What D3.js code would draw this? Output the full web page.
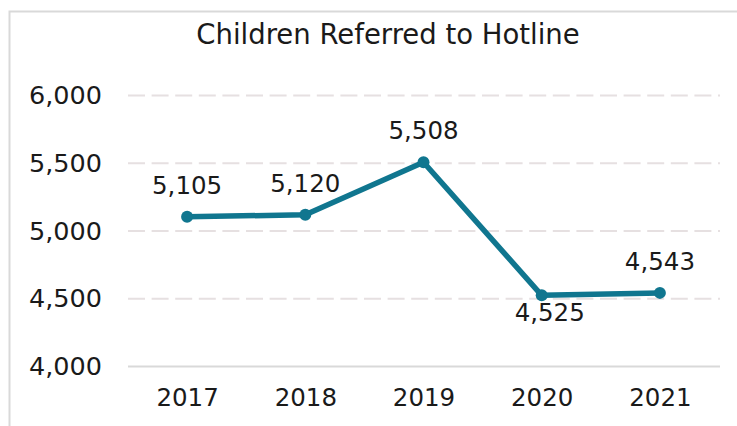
<!DOCTYPE html>
<html>
<head>
<meta charset="utf-8">
<script src="https://cdn.jsdelivr.net/npm/d3@7"></script>
<style>
  html, body { margin: 0; padding: 0; background: #FFFFFF; }
  svg { display: block; }
</style>
</head>
<body>
<script>
const WIDTH = 737;
const HEIGHT = 426;
const FONT = '"DejaVu Sans", sans-serif';
const TEXT = '#1A1A1A';
const LINE = '#10768F';
const GRID = '#E6E0E1';
const AXIS = '#D9D9D9';

const title = 'Children Referred to Hotline';
const years = ['2017', '2018', '2019', '2020', '2021'];
const referred = [5105, 5120, 5508, 4525, 4543];
const yTicks = [4000, 4500, 5000, 5500, 6000];
// label above the point, except 2020 which sits below it
const labelBelow = [false, false, false, true, false];

const svg = d3.select('body').append('svg')
  .attr('width', WIDTH)
  .attr('height', HEIGHT)
  .attr('viewBox', `0 0 ${WIDTH} ${HEIGHT}`);

// chart frame, runs off the right and bottom edges
svg.append('rect')
  .attr('x', 9.5).attr('y', 11.5)
  .attr('width', WIDTH).attr('height', HEIGHT)
  .attr('fill', '#FFFFFF')
  .attr('stroke', AXIS)
  .attr('stroke-width', 2);

const x = d3.scalePoint().domain(years).range([128, 719]).padding(0.5);
const y = d3.scaleLinear().domain([4000, 6000]).range([366.4, 95.6]);

// dashed gridlines
svg.append('g')
  .selectAll('line')
  .data(yTicks.slice(1))
  .join('line')
  .attr('x1', 128).attr('x2', 720)
  .attr('y1', d => y(d)).attr('y2', d => y(d))
  .attr('stroke', GRID)
  .attr('stroke-width', 2)
  .attr('stroke-dasharray', '17 6.6');

// y axis tick labels
const yAxis = d3.axisLeft(y).tickValues(yTicks).tickFormat(d3.format(',')).tickSize(0).tickPadding(0);
svg.append('g')
  .attr('transform', 'translate(102,0)')
  .call(yAxis)
  .call(g => g.select('.domain').remove())
  .call(g => g.selectAll('text')
    .attr('fill', TEXT)
    .attr('font-size', 25.5)
    .attr('font-family', FONT));

// baseline
svg.append('line')
  .attr('x1', 128).attr('x2', 720)
  .attr('y1', y(4000)).attr('y2', y(4000))
  .attr('stroke', AXIS)
  .attr('stroke-width', 2);

// x axis labels
const xAxis = d3.axisBottom(x).tickSize(0).tickPadding(22);
svg.append('g')
  .attr('transform', `translate(0,${y(4000)})`)
  .call(xAxis)
  .call(g => g.select('.domain').remove())
  .call(g => g.selectAll('text')
    .attr('fill', TEXT)
    .attr('font-size', 24.5)
    .attr('font-family', FONT));

const pts = years.map((yr, i) => ({ yr, v: referred[i], below: labelBelow[i] }));

svg.append('path')
  .datum(pts)
  .attr('fill', 'none')
  .attr('stroke', LINE)
  .attr('stroke-width', 5.5)
  .attr('stroke-linejoin', 'round')
  .attr('d', d3.line().x(d => x(d.yr)).y(d => y(d.v)));

svg.append('g')
  .selectAll('circle')
  .data(pts)
  .join('circle')
  .attr('cx', d => x(d.yr))
  .attr('cy', d => y(d.v))
  .attr('r', 6)
  .attr('fill', LINE);

svg.append('g')
  .selectAll('text')
  .data(pts)
  .join('text')
  .attr('x', d => x(d.yr) + (d.below ? 8 : 0))
  .attr('y', d => y(d.v) + (d.below ? 26 : -23))
  .attr('text-anchor', 'middle')
  .attr('fill', TEXT)
  .attr('font-size', 24.5)
  .attr('font-family', FONT)
  .text(d => d3.format(',')(d.v));

svg.append('text')
  .attr('x', 388)
  .attr('y', 44)
  .attr('text-anchor', 'middle')
  .attr('fill', TEXT)
  .attr('font-size', 27.5)
  .attr('font-family', FONT)
  .text(title);
</script>
</body>
</html>
